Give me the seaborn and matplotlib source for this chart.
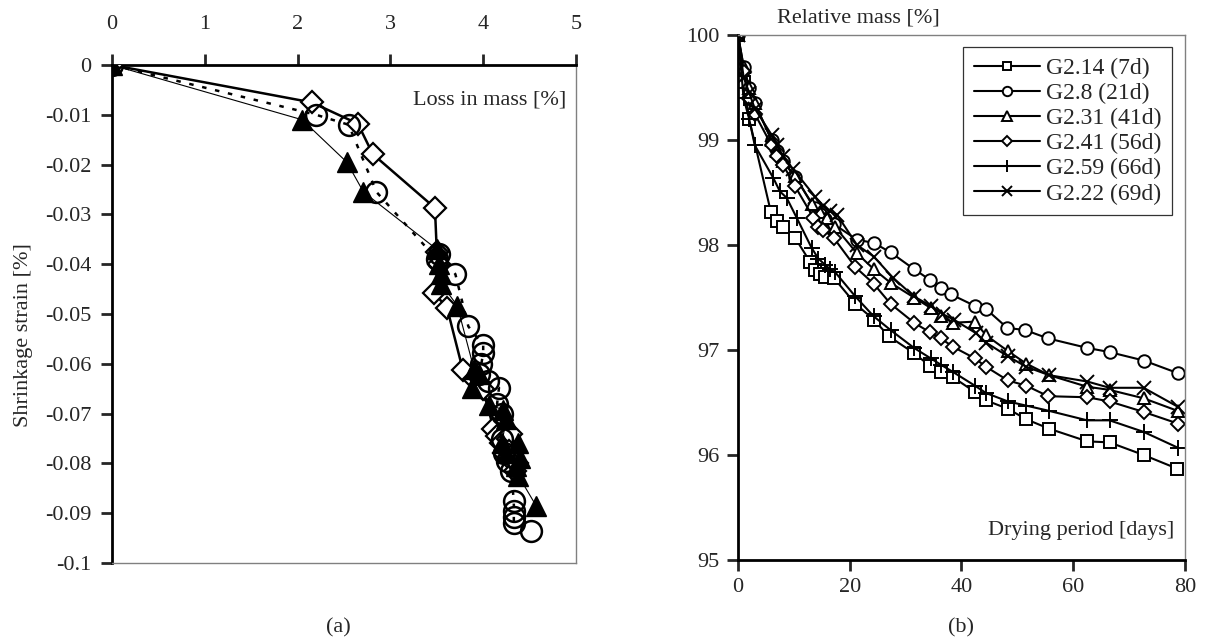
import numpy as np
import pandas as pd
import matplotlib
matplotlib.use("Agg")
import matplotlib.pyplot as plt
import seaborn as sns

# ---------------- data: panel (a) ----------------
diamond_loss = [0, 2.15, 2.65, 2.81, 3.48, 3.50, 3.52, 3.47, 3.61, 3.78, 3.90, 4.00, 4.11,
                4.15, 4.19, 4.22, 4.27, 4.30, 4.28, 4.31, 4.34, 4.36]
diamond_strain = [0, -0.0075, -0.0118, -0.0179, -0.0287, -0.0375, -0.0400, -0.0458, -0.0487,
                  -0.0612, -0.0630, -0.0650, -0.0730, -0.0745, -0.0760, -0.0780, -0.0752,
                  -0.0740, -0.0775, -0.0795, -0.0815, -0.0800]

circle_loss = [0, 2.20, 2.55, 2.85, 3.50, 3.52, 3.70, 3.84, 4.00, 4.00, 3.98, 3.95, 4.05, 4.17,
               4.15, 4.20, 4.20, 4.22, 4.26, 4.30, 4.33, 4.33, 4.33, 4.33, 4.51]
circle_strain = [0, -0.0100, -0.0120, -0.0255, -0.0390, -0.0380, -0.0420, -0.0525, -0.0563,
                 -0.0578, -0.0600, -0.0620, -0.0635, -0.0648, -0.0680, -0.0700, -0.0750,
                 -0.0780, -0.0795, -0.0815, -0.0876, -0.0895, -0.0908, -0.0920, -0.0935]

triangle_loss = [0, 2.05, 2.53, 2.71, 3.50, 3.52, 3.55, 3.55, 3.72, 3.90, 3.95, 3.88, 4.06,
                 4.21, 4.25, 4.20, 4.25, 4.37, 4.40, 4.35, 4.38, 4.57]
triangle_strain = [0, -0.0110, -0.0195, -0.0255, -0.0370, -0.0400, -0.0420, -0.0440, -0.0483,
                   -0.0610, -0.0620, -0.0648, -0.0682, -0.0692, -0.0710, -0.0760, -0.0780,
                   -0.0760, -0.0790, -0.0805, -0.0825, -0.0885]

a_xticks = [0, 1, 2, 3, 4, 5]
a_yticks = [0, -0.01, -0.02, -0.03, -0.04, -0.05, -0.06, -0.07, -0.08, -0.09, -0.1]
a_yticklabels = ["0", "-0.01", "-0.02", "-0.03", "-0.04", "-0.05", "-0.06", "-0.07",
                 "-0.08", "-0.09", "-0.1"]

# ---------------- data: panel (b) ----------------
g214_days = [0, 1, 2, 5.9, 7.0, 8.1, 10.2, 12.9, 13.8, 14.7, 15.6, 17.1, 21.0, 24.3, 27.0,
             31.5, 34.3, 36.3, 38.5, 42.4, 44.4, 48.3, 51.6, 55.7, 62.5, 66.5, 72.6, 78.6]
g214_mass = [100, 99.55, 99.2, 98.31, 98.23, 98.17, 98.07, 97.84, 97.76, 97.72, 97.70, 97.69,
             97.44, 97.29, 97.13, 96.97, 96.85, 96.79, 96.74, 96.60, 96.52, 96.44, 96.34,
             96.25, 96.13, 96.12, 96.00, 95.87]

g28_days = [0, 1, 2, 3, 6, 7, 8, 10.2, 13.8, 14.7, 15.6, 17.1, 21.3, 24.3, 27.3, 31.5, 34.3,
            36.3, 38.1, 42.4, 44.4, 48.2, 51.4, 55.5, 62.5, 66.5, 72.6, 78.7]
g28_mass = [100, 99.7, 99.5, 99.35, 99.0, 98.9, 98.8, 98.65, 98.35, 98.3, 98.25, 98.2, 98.05,
            98.02, 97.93, 97.77, 97.67, 97.59, 97.53, 97.42, 97.39, 97.21, 97.19, 97.11,
            97.02, 96.98, 96.90, 96.78]

g231_days = [0, 1, 2, 3, 6, 7, 8, 10.2, 13.2, 14.7, 15.9, 17.4, 21.3, 24.3, 27.3, 31.5, 34.5,
             36.3, 38.5, 42.4, 44.4, 48.3, 51.6, 55.7, 62.5, 66.5, 72.6, 78.7]
g231_mass = [100, 99.7, 99.5, 99.35, 99.0, 98.9, 98.8, 98.66, 98.39, 98.31, 98.26, 98.17,
             97.92, 97.77, 97.64, 97.50, 97.40, 97.32, 97.26, 97.27, 97.14, 96.99, 96.87,
             96.76, 96.65, 96.62, 96.54, 96.42]

g241_days = [0, 1, 2, 3, 6, 7, 8.1, 10.2, 13.5, 14.4, 15.3, 17.1, 21.0, 24.3, 27.3, 31.5,
             34.3, 36.3, 38.5, 42.4, 44.4, 48.3, 51.6, 55.5, 62.5, 66.5, 72.6, 78.7]
g241_mass = [100, 99.65, 99.4, 99.25, 98.95, 98.85, 98.76, 98.56, 98.26, 98.17, 98.14, 98.07,
             97.79, 97.63, 97.44, 97.26, 97.17, 97.11, 97.03, 96.92, 96.84, 96.71, 96.66,
             96.56, 96.55, 96.51, 96.41, 96.30]

g259_days = [0, 1, 2, 3, 6.3, 7.5, 8.7, 10.5, 13.2, 14.4, 15.6, 16.5, 17.4, 21.0, 24.3, 27.3,
             31.5, 34.5, 36.3, 38.5, 42.4, 44.4, 48.3, 51.6, 55.7, 62.5, 66.5, 72.6, 78.7]
g259_mass = [100, 99.4, 99.2, 98.95, 98.64, 98.51, 98.45, 98.26, 97.97, 97.87, 97.81, 97.77,
             97.74, 97.51, 97.32, 97.19, 97.02, 96.92, 96.86, 96.79, 96.66, 96.59, 96.51,
             96.47, 96.42, 96.33, 96.33, 96.22, 96.07]

g222_days = [0, 1, 2, 3, 6, 7, 8, 9.9, 13.8, 15.3, 16.5, 17.7, 21.3, 24.3, 27.7, 31.5, 34.5,
             36.7, 38.6, 42.6, 44.4, 48.3, 51.6, 55.7, 62.5, 66.5, 72.6, 78.7]
g222_mass = [100, 99.6, 99.45, 99.3, 99.05, 98.95, 98.85, 98.72, 98.46, 98.37, 98.32, 98.29,
             98.00, 97.89, 97.69, 97.51, 97.42, 97.34, 97.29, 97.16, 97.07, 96.94, 96.84,
             96.76, 96.70, 96.64, 96.64, 96.46]

b_labels = ["G2.14 (7d)", "G2.8 (21d)", "G2.31 (41d)", "G2.41 (56d)", "G2.59 (66d)",
            "G2.22 (69d)"]
b_xticks = [0, 20, 40, 60, 80]
b_yticks = [95, 96, 97, 98, 99, 100]

# ---------------- style ----------------
sns.set_style("ticks")
plt.rcParams["font.family"] = ["Liberation Serif", "DejaVu Serif"]
plt.rcParams["font.size"] = 16

fig = plt.figure(figsize=(12.08, 6.41), dpi=100)
W, H = 1208, 641


def axes_px(x0, y0, x1, y1):
    return fig.add_axes([x0 / W, 1 - y1 / H, (x1 - x0) / W, (y1 - y0) / H])


axa = axes_px(112, 65, 576, 563)
axb = axes_px(738, 35, 1185, 560)

GRAY = "#808080"

# ---- panel (a)
sns.lineplot(x=diamond_loss, y=diamond_strain, ax=axa, sort=False, estimator=None,
             color="black", lw=1.8, marker="D", markersize=11, markerfacecolor="white",
             markeredgecolor="black", markeredgewidth=1.6, zorder=3)
sns.lineplot(x=circle_loss, y=circle_strain, ax=axa, sort=False, estimator=None,
             color="black", lw=1.8, linestyle=(0, (1.8, 3.5)), marker="o", markersize=15,
             markerfacecolor="none", markeredgecolor="black", markeredgewidth=1.8, zorder=4)
sns.lineplot(x=triangle_loss, y=triangle_strain, ax=axa, sort=False, estimator=None,
             color="black", lw=0.8, marker="^", markersize=15, markerfacecolor="black",
             markeredgecolor="black", markeredgewidth=1.0, zorder=5)

axa.set_xlim(0, 5)
axa.set_ylim(-0.1, 0)
axa.xaxis.tick_top()
axa.set_xticks(a_xticks)
axa.set_xticklabels([str(t) for t in a_xticks])
axa.set_yticks(a_yticks)
axa.set_yticklabels(a_yticklabels)
axa.tick_params(axis="x", which="major", direction="out", length=8, width=2, pad=14,
                labelsize=16, top=True, bottom=False)
axa.tick_params(axis="y", which="major", direction="out", length=8, width=2, pad=7,
                labelsize=16)
axa.spines["top"].set_color("black"); axa.spines["top"].set_linewidth(2)
axa.spines["left"].set_color("black"); axa.spines["left"].set_linewidth(2)
axa.spines["right"].set_color(GRAY); axa.spines["right"].set_linewidth(1)
axa.spines["bottom"].set_color(GRAY); axa.spines["bottom"].set_linewidth(1)
axa.set_xlabel("")
axa.set_ylabel("Shrinkage strain [%]", fontsize=16)
axa.yaxis.set_label_coords(-0.17, 0.458)
axa.text(0.98, 0.93, "Loss in mass [%]", transform=axa.transAxes, ha="right",
         va="center", fontsize=16)
axa.text((338 - 112) / 464, -0.13, "(a)", transform=axa.transAxes, ha="center",
         va="center", fontsize=16)

# ---- panel (b)
series = [
    (g214_days, g214_mass, "s", 8),
    (g28_days, g28_mass, "o", 9),
    (g231_days, g231_mass, "^", 9),
    (g241_days, g241_mass, "D", 7),
    (g259_days, g259_mass, "+", 11),
    (g222_days, g222_mass, "x", 10),
]
for (d, m, mk, ms), lab in zip(series, b_labels):
    sns.lineplot(x=d, y=m, ax=axb, sort=False, estimator=None, color="black", lw=1.5,
                 marker=mk, markersize=ms, markerfacecolor="white",
                 markeredgecolor="black", markeredgewidth=1.4, label=lab)

axb.set_xlim(0, 80)
axb.set_ylim(95, 100)
axb.set_xticks(b_xticks)
axb.set_yticks(b_yticks)
axb.tick_params(axis="both", which="major", direction="out", length=8, width=2,
                labelsize=16)
axb.tick_params(axis="x", pad=5)
axb.tick_params(axis="y", pad=5)
axb.spines["left"].set_color("black"); axb.spines["left"].set_linewidth(2)
axb.spines["bottom"].set_color("black"); axb.spines["bottom"].set_linewidth(2)
axb.spines["right"].set_color(GRAY); axb.spines["right"].set_linewidth(1)
axb.spines["top"].set_color(GRAY); axb.spines["top"].set_linewidth(1)
axb.set_xlabel("")
axb.set_ylabel("")
axb.text(0.087, 1.0 + 8 / 525, "Relative mass [%]", transform=axb.transAxes, ha="left",
         va="bottom", fontsize=16)
axb.text(0.975, 0.057, "Drying period [days]", transform=axb.transAxes, ha="right",
         va="center", fontsize=16)
axb.text(0.5, -0.13, "(b)", transform=axb.transAxes, ha="center", va="center",
         fontsize=16)

leg = axb.legend(loc="upper right", bbox_to_anchor=(0.971, 0.977), borderaxespad=0,
                 frameon=True, fancybox=False, edgecolor="black", fontsize=17,
                 handlelength=2.8, handletextpad=0.25, labelspacing=0.15, borderpad=0.45,
                 markerscale=0.75)
leg.get_frame().set_linewidth(0.9)

fig.savefig("out.png", dpi=100, facecolor="white")
